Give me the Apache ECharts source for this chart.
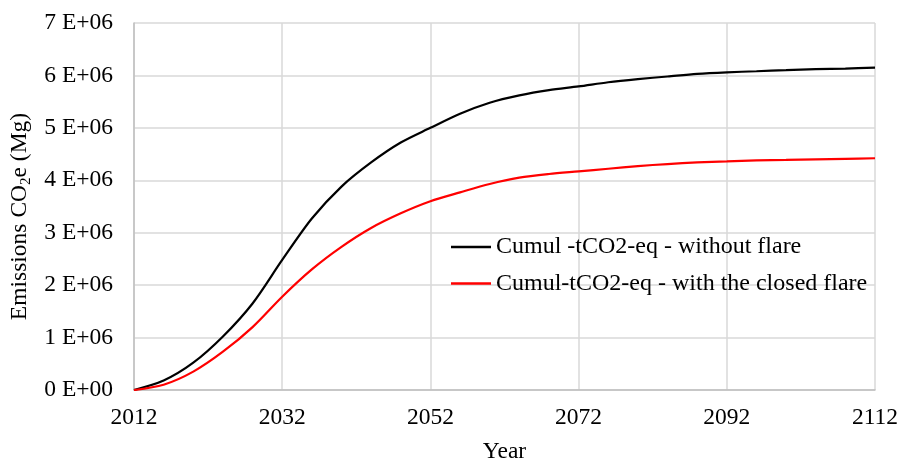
<!DOCTYPE html>
<html>
<head>
<meta charset="utf-8">
<script src="https://cdn.jsdelivr.net/npm/echarts@6/dist/echarts.min.js"></script>
<style>
html,body{margin:0;padding:0;background:#fff;}
#chart{width:900px;height:465px;}
</style>
</head>
<body>
<div id="chart"></div>
<script>
// Data (values in Mg CO2e)
const years = [2012, 2016, 2020, 2024, 2028, 2032, 2036, 2040, 2044, 2048, 2052, 2056, 2060, 2064, 2068, 2072, 2076, 2080, 2084, 2088, 2092, 2096, 2100, 2104, 2108, 2112];
const withoutFlare = [0, 0.18e6, 0.52e6, 1.02e6, 1.65e6, 2.48e6, 3.27e6, 3.88e6, 4.34e6, 4.72e6, 5.00e6, 5.27e6, 5.48e6, 5.62e6, 5.72e6, 5.79e6, 5.87e6, 5.93e6, 5.98e6, 6.03e6, 6.06e6, 6.08e6, 6.10e6, 6.12e6, 6.13e6, 6.15e6];
const closedFlare = [0, 0.10e6, 0.35e6, 0.73e6, 1.20e6, 1.78e6, 2.30e6, 2.73e6, 3.09e6, 3.37e6, 3.60e6, 3.77e6, 3.93e6, 4.05e6, 4.12e6, 4.17e6, 4.22e6, 4.27e6, 4.31e6, 4.34e6, 4.36e6, 4.38e6, 4.39e6, 4.40e6, 4.41e6, 4.42e6];
const seriesNames = ['Cumul -tCO2-eq - without flare', 'Cumul-tCO2-eq - with the closed flare'];
const xTicks = [2012, 2032, 2052, 2072, 2092, 2112];
const yMax = 7e6;

const BASE = xTicks[0];
const toPairs = (vals) => years.map((y, i) => [y - BASE, vals[i]]);

const chart = echarts.init(document.getElementById('chart'), null, {renderer: 'canvas'});
const font = '"Liberation Serif", "Times New Roman", serif';
chart.setOption({
  backgroundColor: '#ffffff',
  animation: false,
  textStyle: {fontFamily: font, color: '#000'},
  grid: {left: 134, right: 25, top: 23, bottom: 75, containLabel: false, outerBoundsMode: 'none'},
  legend: {
    orient: 'vertical',
    left: 451,
    top: 235,
    padding: 0,
    icon: 'rect',
    itemWidth: 40,
    itemHeight: 2.5,
    itemGap: 12.6,
    textStyle: {fontFamily: font, fontSize: 24, color: '#000', lineHeight: 24},
    data: seriesNames
  },
  xAxis: {
    type: 'value',
    min: 0,
    max: xTicks[xTicks.length - 1] - BASE,
    interval: 20,
    name: 'Year',
    nameLocation: 'middle',
    nameGap: 50,
    nameTextStyle: {fontFamily: font, fontSize: 23.5, color: '#000'},
    axisLine: {show: true, lineStyle: {color: '#bfbfbf', width: 1.5}},
    axisTick: {show: false},
    axisLabel: {
      margin: 16,
      fontFamily: font, fontSize: 23.5, color: '#000',
      formatter: (v) => String(v + BASE)
    },
    splitLine: {show: true, lineStyle: {color: '#d9d9d9', width: 1.5}}
  },
  yAxis: {
    type: 'value',
    min: 0,
    max: yMax,
    interval: 1e6,
    name: '{t|Emissions CO}{s|2}{t|e (Mg)}',
    nameLocation: 'middle',
    nameGap: 97,
    nameRotate: 90,
    nameTextStyle: {
      padding: [0, 20, 0, 0],
      rich: {
        t: {fontFamily: font, fontSize: 23.5, color: '#000'},
        s: {fontFamily: font, fontSize: 15, color: '#000', padding: [0, 0, -12, 0]}
      }
    },
    axisLine: {show: true, lineStyle: {color: '#bfbfbf', width: 1.5}},
    axisTick: {show: false},
    axisLabel: {
      margin: 21,
      fontFamily: font, fontSize: 23.5, color: '#000',
      formatter: (v) => v === 0 ? '0 E+00' : (v / 1e6) + ' E+06'
    },
    splitLine: {show: true, lineStyle: {color: '#d9d9d9', width: 1.5}}
  },
  series: [
    {
      name: seriesNames[0], type: 'line', data: toPairs(withoutFlare),
      smooth: 0.3, symbol: 'none',
      lineStyle: {color: '#000000', width: 2.2}, itemStyle: {color: '#000000'}
    },
    {
      name: seriesNames[1], type: 'line', data: toPairs(closedFlare),
      smooth: 0.3, symbol: 'none',
      lineStyle: {color: '#ff0000', width: 2.2}, itemStyle: {color: '#ff0000'}
    }
  ]
});
</script>
</body>
</html>
